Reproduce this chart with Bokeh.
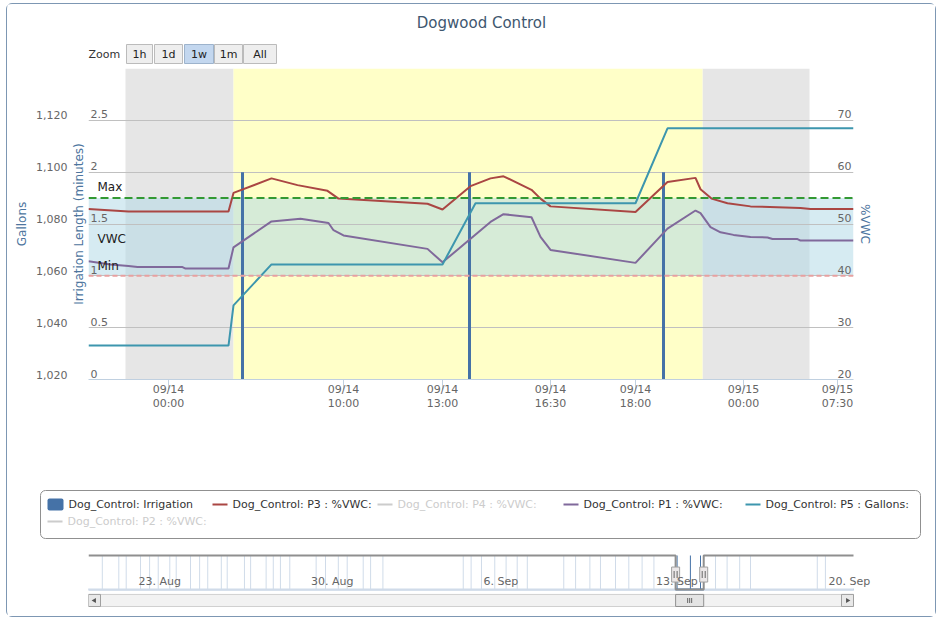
from math import pi
from bokeh.plotting import figure
from bokeh.models import (Range1d, LinearAxis, FixedTicker, NumeralTickFormatter, BoxAnnotation, Span)
from bokeh.layouts import column
from bokeh.embed import file_html
from bokeh.resources import INLINE
from bokeh.core.properties import value

FONT = "DejaVu Sans"

# ---------------- data ----------------
title_text = "Dogwood Control"
zoom_buttons = ["1h", "1d", "1w", "1m", "All"]
zoom_selected = "1w"

# main chart: Highstock ordinal axis -> x is the ordinal position of the points
x_tick_pos = [8.0, 25.5, 35.4, 46.2, 54.7, 65.5, 74.9]
x_tick_labels = ["09/14\n00:00", "09/14\n10:00", "09/14\n13:00", "09/14\n16:30",
                 "09/14\n18:00", "09/15\n00:00", "09/15\n07:30"]
x_span = [0.0, 76.5]

irr_grid = [0, 0.5, 1, 1.5, 2, 2.5, 3]
irr_ticks = [0, 0.5, 1, 1.5, 2, 2.5]
irr_labels = ["0", "0.5", "1", "1.5", "2", "2.5"]
gal_span = [1020, 1140]
gal_ticks = [1020, 1040, 1060, 1080, 1100, 1120]
vwc_span = [20, 80]
vwc_ticks = [20, 30, 40, 50, 60, 70]
vwc_labels = ["20", "30", "40", "50", "60", "70"]

night_start = [3.7, 61.4]
night_end = [14.5, 72.1]
day_start = [14.5]
day_end = [61.4]

vwc_min = 40
vwc_max = 55

irr_pos = [15.4, 38.1, 57.5]
irr_minutes = [2.0, 2.0, 2.0]

p3_pos = [0.0, 4.0, 14.0, 14.5, 18.3, 20.9, 23.9, 25.0, 33.9, 35.4, 38.2, 40.2, 41.5,
          44.3, 45.2, 46.2, 54.7, 57.9, 60.7, 61.2, 62.3, 63.9, 66.2, 71.2, 72.2, 76.5]
p3_vwc = [52.9, 52.4, 52.4, 56.0, 58.8, 57.5, 56.4, 54.9, 53.9, 52.8, 57.3, 58.8, 59.2,
          56.6, 54.9, 53.4, 52.3, 58.1, 58.9, 56.7, 54.9, 54.0, 53.4, 53.1, 52.9, 52.9]

p1_pos = [0.0, 2.2, 4.0, 4.9, 9.4, 9.7, 14.0, 14.5, 18.3, 21.2, 24.0, 24.5, 25.5, 33.9,
          35.4, 40.2, 41.5, 44.3, 45.2, 46.2, 54.7, 57.9, 60.7, 61.2, 62.2, 63.2, 64.5,
          66.2, 67.9, 68.4, 70.9, 71.2, 76.5]
p1_vwc = [42.8, 42.2, 41.9, 41.7, 41.7, 41.4, 41.4, 45.5, 50.5, 51.0, 50.2, 48.8, 47.8, 45.2,
          42.6, 50.4, 51.9, 51.3, 47.5, 45.0, 42.5, 49.1, 52.6, 52.1, 49.4, 48.4, 47.9,
          47.5, 47.4, 47.1, 47.1, 46.8, 46.8]

p5_pos = [0.0, 14.0, 14.5, 18.3, 35.4, 38.7, 54.7, 57.9, 76.5]
p5_gal = [1033.1, 1033.1, 1048.6, 1064.4, 1064.4, 1088.0, 1088.0, 1116.9, 1116.9]

legend_labels = ["Dog_Control: Irrigation", "Dog_Control: P3 : %VWC:", "Dog_Control: P4 : %VWC:",
                 "Dog_Control: P1 : %VWC:", "Dog_Control: P5 : Gallons:", "Dog_Control: P2 : %VWC:"]
legend_hidden = [False, False, True, False, False, True]

# navigator: day numbers counted from 1 Aug
nav_span = [21.09, 52.14]
nav_tick_days = [23, 30, 37, 44, 51]
nav_tick_labels = ["23. Aug", "30. Aug", "6. Sep", "13. Sep", "20. Sep"]
nav_irrigation_days = [21.65, 22.32, 22.62, 23.20, 23.57, 23.92, 24.39, 24.65, 25.23, 25.60,
                       25.93, 26.48, 26.72, 27.42, 27.67, 28.30, 28.59, 28.88, 29.26, 30.33,
                       30.71, 31.23, 31.59, 32.24, 32.54, 33.04, 36.30, 36.62, 37.04, 37.58,
                       38.04, 38.49, 38.90, 40.38, 40.86, 41.44, 41.87, 42.48, 43.02, 43.56,
                       44.04, 44.98, 45.52, 45.93, 46.54, 47.01, 47.52, 47.96, 50.67, 51.00]
nav_selected = [44.92, 46.06]

# ---------------- colours ----------------
C_IRR, C_P3, C_P4, C_P1, C_P5, C_P2 = "#4572A7", "#AA4643", "#89A54E", "#80699B", "#3D96AE", "#DB843D"
series_colors = [C_IRR, C_P3, C_P4, C_P1, C_P5, C_P2]
AXIS_TITLE = "#4d759e"
LABEL = "#666666"

# ---------------- geometry (page pixels) ----------------
OX, OY = 7, 4            # top-left of the content inside the rounded border
W = 928
FRAME_L, FRAME_R = 88, 853
LEFT, RIGHT = FRAME_L - OX, OX + W - FRAME_R
H_HEAD, H_MAIN, H_LEG, H_NAV = 62, 407, 75, 68
Y_MAIN = OY + H_HEAD
Y_LEG = Y_MAIN + H_MAIN
Y_NAV = Y_LEG + H_LEG


def no_align(fig):
    if "frame_align" in fig.properties():
        fig.frame_align = False
    return fig


def plain(fig):
    fig.outline_line_color = None
    fig.grid.visible = False
    return no_align(fig)


# ---------------- header (title + range selector) ----------------
header = plain(figure(width=W, height=H_HEAD, x_range=Range1d(OX, OX + W),
                      y_range=Range1d(OY + H_HEAD, OY), min_border=0,
                      x_axis_location=None, y_axis_location=None,
                      toolbar_location=None, output_backend="svg"))
header.text(x=[481], y=[22], text=[title_text], text_align="center", text_baseline="middle",
            text_font=value(FONT), text_font_size="15px", text_color="#3E576F")
header.text(x=[88], y=[54], text=["Zoom"], text_align="left", text_baseline="middle",
            text_font=value(FONT), text_font_size="11px", text_color="#333333")
btn_left = [126, 154, 184, 214, 243]
btn_w = [26, 28, 29, 28, 33]
for bl, bw, lab in zip(btn_left, btn_w, zoom_buttons):
    sel = lab == zoom_selected
    header.quad(left=[bl], right=[bl + bw], top=[44], bottom=[63],
                fill_color="#c3d7ef" if sel else "#eeeeee",
                line_color="#9db3cc" if sel else "#bbbbbb", line_width=1)
    header.text(x=[bl + bw / 2], y=[54], text=[lab], text_align="center", text_baseline="middle",
                text_font=value(FONT), text_font_size="11px", text_color="#222222")

# ---------------- main chart ----------------
main = no_align(figure(width=W, height=H_MAIN, x_range=Range1d(*x_span), y_range=Range1d(0, 3),
                       min_border_left=LEFT, min_border_right=RIGHT, min_border_top=2,
                       min_border_bottom=94, toolbar_location=None, output_backend="svg"))
FRAME_H = H_MAIN - 2 - 94
# Highcharts draws the outer axis labels 5px above their grid lines
lbl_shift = 5 * (gal_span[1] - gal_span[0]) / FRAME_H
main.extra_y_ranges = {"gal": Range1d(*gal_span), "vwc": Range1d(*vwc_span),
                       "gal_lbl": Range1d(gal_span[0] - lbl_shift, gal_span[1] - lbl_shift)}
main.outline_line_color = None

main.xgrid.visible = False
main.ygrid.ticker = FixedTicker(ticks=irr_grid)
main.ygrid.grid_line_color = "#C0C0C0"


def title_style(ax, standoff):
    ax.axis_label_text_font = FONT
    ax.axis_label_text_font_size = "12px"
    ax.axis_label_text_font_style = "normal"
    ax.axis_label_text_color = AXIS_TITLE
    ax.axis_label_standoff = standoff


ya = main.yaxis[0]
ya.ticker = FixedTicker(ticks=[])
ya.axis_line_color = None
ya.major_tick_line_color = None
ya.minor_tick_line_color = None
ya.major_tick_out = 0
ya.major_tick_in = 0
ya.major_label_standoff = 0
ya.axis_label = "Irrigation Length (minutes)"
title_style(ya, 3)

gal_axis = LinearAxis(y_range_name="gal_lbl", ticker=FixedTicker(ticks=gal_ticks),
                      formatter=NumeralTickFormatter(format="0,0"),
                      axis_label="Gallons", axis_line_color=None,
                      major_tick_line_color=None, minor_tick_line_color=None,
                      major_tick_out=0, major_tick_in=0, major_label_standoff=1)
gal_axis.major_label_text_font = FONT
gal_axis.major_label_text_font_size = "11px"
gal_axis.major_label_text_color = LABEL
title_style(gal_axis, 4)
main.add_layout(gal_axis, "left")

vwc_axis = LinearAxis(y_range_name="vwc", ticker=FixedTicker(ticks=[]), axis_label="%VWC",
                      axis_line_color=None, major_tick_line_color=None, minor_tick_line_color=None,
                      major_tick_out=0, major_tick_in=0, major_label_standoff=0)
title_style(vwc_axis, 4)
main.add_layout(vwc_axis, "right")

xa = main.xaxis[0]
xa.ticker = FixedTicker(ticks=x_tick_pos)
xa.major_label_overrides = {t: l for t, l in zip(x_tick_pos, x_tick_labels)}
xa.axis_line_color = "#C0D0E0"
xa.major_tick_line_color = "#C0D0E0"
xa.major_tick_out = 10
xa.major_tick_in = 0
xa.minor_tick_line_color = None
xa.major_label_standoff = -7
xa.major_label_text_font = FONT
xa.major_label_text_font_size = "11px"
xa.major_label_text_color = LABEL
xa.major_label_text_line_height = 1.1

for s, e in zip(night_start, night_end):
    main.add_layout(BoxAnnotation(left=s, right=e, fill_color="#e6e6e6", fill_alpha=1.0,
                                  line_color=None, level="image"))
for s, e in zip(day_start, day_end):
    main.add_layout(BoxAnnotation(left=s, right=e, fill_color="#ffffc8", fill_alpha=1.0,
                                  line_color=None, level="image"))
main.add_layout(BoxAnnotation(bottom=vwc_min, top=vwc_max, y_range_name="vwc",
                              fill_color="#add8e6", fill_alpha=0.5, line_color=None, level="image"))

main.vbar(x=irr_pos, top=irr_minutes, bottom=0, width=0.3, fill_color=C_IRR, line_color=None)
main.line(p3_pos, p3_vwc, y_range_name="vwc", line_color=C_P3, line_width=2)
main.line(p1_pos, p1_vwc, y_range_name="vwc", line_color=C_P1, line_width=2)
main.line(p5_pos, p5_gal, y_range_name="gal", line_color=C_P5, line_width=2)

main.add_layout(Span(location=vwc_max, dimension="width", y_range_name="vwc",
                     line_color="#339933", line_width=2, line_dash="8 4"))
main.add_layout(Span(location=vwc_min, dimension="width", y_range_name="vwc",
                     line_color="#e8a0a0", line_width=2, line_dash="5 3"))

main.text(x=[x_span[0]] * len(irr_ticks), y=irr_ticks, text=irr_labels, x_offset=2, y_offset=-2,
          text_align="left", text_baseline="bottom", text_font=value(FONT),
          text_font_size="11px", text_color=LABEL)
main.text(x=[x_span[1]] * len(vwc_ticks), y=vwc_ticks, text=vwc_labels, x_offset=-2, y_offset=-2,
          y_range_name="vwc", text_align="right", text_baseline="bottom", text_font=value(FONT),
          text_font_size="11px", text_color=LABEL)
main.text(x=[x_span[0]] * 3, y=[vwc_max, (vwc_min + vwc_max) / 2, vwc_min],
          text=["Max", "VWC", "Min"], x_offset=9, y_offset=[-4, 2, -3], y_range_name="vwc",
          text_align="left", text_baseline=["bottom", "middle", "bottom"],
          text_font=value(FONT), text_font_size="12px", text_color="#222222")

# ---------------- legend strip ----------------
leg = plain(figure(width=W, height=H_LEG, x_range=Range1d(OX, OX + W),
                   y_range=Range1d(Y_LEG + H_LEG, Y_LEG), min_border=0,
                   x_axis_location=None, y_axis_location=None,
                   toolbar_location=None, output_backend="svg"))
box = leg.quad(left=[40], right=[920], top=[490], bottom=[538], fill_color="white",
               line_color="#909090", line_width=1)
if "border_radius" in box.glyph.properties():
    box.glyph.border_radius = 5
item_x = [47, 212, 377, 563, 745, 47]
item_y = [504, 504, 504, 504, 504, 521]
for i, (lab, hid, col, ix, iy) in enumerate(zip(legend_labels, legend_hidden, series_colors,
                                               item_x, item_y)):
    sw_col = "#cccccc" if hid else col
    if i == 0:
        sw = leg.quad(left=[ix], right=[ix + 16], top=[iy - 6], bottom=[iy + 6],
                      fill_color=sw_col, line_color=None)
        if "border_radius" in sw.glyph.properties():
            sw.glyph.border_radius = 2
        tx = ix + 21
    else:
        leg.line([ix, ix + 15], [iy, iy], line_color=sw_col, line_width=2)
        tx = ix + 20
    leg.text(x=[tx], y=[iy], text=[lab], text_align="left", text_baseline="middle",
             text_font=value(FONT), text_font_size="11px",
             text_color="#cccccc" if hid else "#333333")

# ---------------- navigator ----------------
x0, x1 = nav_span
s0, s1 = nav_selected
px_per_day = (FRAME_R - FRAME_L) / (x1 - x0)
NAV_FRAME_R = 878          # frame reaches a bit further so the last date label is not clipped
nav_view_end = x1 + (NAV_FRAME_R - FRAME_R) / px_per_day
nav = plain(figure(width=W, height=H_NAV, x_range=Range1d(x0, nav_view_end),
                   y_range=Range1d(-1.118, 2.118),
                   min_border_left=LEFT, min_border_right=OX + W - NAV_FRAME_R,
                   min_border_top=5, min_border_bottom=8,
                   x_axis_location=None, y_axis_location=None, toolbar_location=None,
                   output_backend="svg"))

nav.segment(x0=nav_irrigation_days, y0=0, x1=nav_irrigation_days, y1=2,
            line_color=C_IRR, line_width=1)
nav.line([x0, x1], [0, 0], line_color=C_IRR, line_width=2)
nav.quad(left=[x0, s1], right=[s0, x1], top=[2.0, 2.0], bottom=[-0.08, -0.08],
         fill_color="white", fill_alpha=0.75, line_color=None)
nav.line([x0, s0, s0, s1, s1, x1], [2, 2, 0, 0, 2, 2], line_color="#8f8f8f", line_width=2)
nav.rect(x=[s0, s1], y=[0.88, 0.88], width=8, height=15, width_units="screen",
         height_units="screen", fill_color="#ebe7e8", line_color="#a0a0a0")
g = 1.5 / px_per_day
nav.rect(x=[s0 - g, s0 + g, s1 - g, s1 + g], y=[0.88] * 4, width=1, height=7,
         width_units="screen", height_units="screen", fill_color="#666666", line_color=None)
nav.text(x=nav_tick_days, y=[0] * len(nav_tick_days), text=nav_tick_labels, x_offset=3,
         y_offset=-1, text_align="left", text_baseline="bottom", text_font=value(FONT),
         text_font_size="11px", text_color=LABEL)
sb_top, sb_bot = -0.29, -1.0
bw = 12 / px_per_day
nav.quad(left=[x0], right=[x1], top=[sb_top], bottom=[sb_bot], fill_color="#f2f2f2",
         line_color="#d0d0d0")
nav.quad(left=[x0, x1 - bw], right=[x0 + bw, x1], top=[sb_top] * 2, bottom=[sb_bot] * 2,
         fill_color="#e8e8e8", line_color="#a0a0a0")
nav.scatter(x=[x0 + bw / 2, x1 - bw / 2], y=[(sb_top + sb_bot) / 2] * 2, marker="triangle",
            angle=[pi / 2, -pi / 2], size=5, fill_color="#555555", line_color=None)
nav.quad(left=[s0], right=[s1], top=[sb_top], bottom=[sb_bot], fill_color="#e4e4e4",
         line_color="#909090")
g2 = 2 / px_per_day
nav.rect(x=[(s0 + s1) / 2 - g2, (s0 + s1) / 2, (s0 + s1) / 2 + g2], y=[(sb_top + sb_bot) / 2] * 3,
         width=1, height=5, width_units="screen", height_units="screen",
         fill_color="#666666", line_color=None)

layout = column(header, main, leg, nav,
                styles={"border": "1px solid #7d97b3", "border-radius": "6px",
                        "margin": "3px 0 0 6px"})
open("out.html", "w").write(file_html(layout, INLINE))
